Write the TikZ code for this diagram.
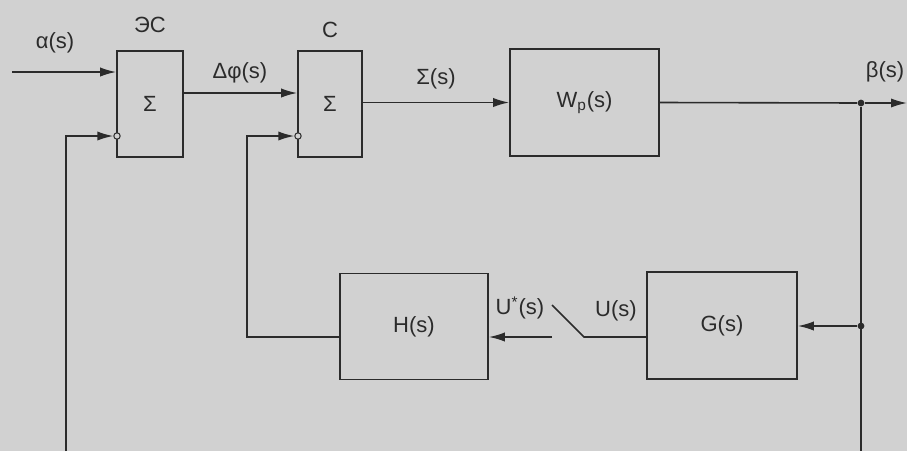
\documentclass[tikz,border=0pt]{standalone}
\usepackage{fontspec}
\setmainfont{Liberation Sans}
\usetikzlibrary{arrows.meta}
\definecolor{paper}{gray}{0.82}
\definecolor{ink}{gray}{0.17}

\begin{document}
\begin{tikzpicture}[x=0.5pt, y=-0.5pt,
    bloc/.style={draw=ink, line width=0.8pt, inner sep=0pt, text=ink,
        font=\fontsize{11}{13}\selectfont},
    rotulo/.style={text=ink, inner sep=0pt,
        font=\fontsize{11}{13}\selectfont},
    senal/.style={draw=ink, line width=0.8pt,
        -{Latex[length=8pt, width=4.6pt]}},
    cable/.style={draw=ink, line width=0.8pt},
    punto/.style={circle, fill=ink, inner sep=0pt, minimum size=3.4pt},
    entrada/.style={circle, draw=ink, fill=paper, line width=0.5pt,
        inner sep=0pt, minimum size=3.2pt}
    ]
    \fill[paper] (0,0) rectangle (907,451);
    \useasboundingbox (0,0) rectangle (907,451);
    % bloques
    \node[bloc, minimum width=33pt, minimum height=53pt] (es) at (150,104) {Σ};
    \node[bloc, minimum width=32pt, minimum height=53pt] (c) at (330,104) {Σ};
    \node[bloc, minimum width=74.5pt, minimum height=53.5pt] (wp) at (584.5,102.5) {W\textsubscript{p}(s)};
    \node[bloc, minimum width=74pt, minimum height=53pt] (h) at (414,326.5) {H(s)};
    \node[bloc, minimum width=75pt, minimum height=53.5pt] (g) at (722,325.5) {G(s)};
    % rotulos
    \node[rotulo] (esnom) at (150,25) {ЭС};
    \node[rotulo] (cnom) at (330,30) {С};
    \node[rotulo] (alfa) at (55,43) {α(s)};
    \node[rotulo] (dfi) at (240,73) {Δφ(s)};
    \node[rotulo] (sigma) at (436,79) {Σ(s)};
    \node[rotulo] (beta) at (885,72) {β(s)};
    \node[rotulo] (uest) at (520,308) {U\textsuperscript{*}(s)};
    \node[rotulo] (u) at (616,311) {U(s)};
    % puntos
    \coordinate (in) at (12,72);
    \coordinate (out) at (907,103);
    \coordinate (bl) at (66,451);
    \coordinate (br) at (861,451);
    \coordinate (fbc) at (247,136);
    \coordinate (sw1) at (584,337);
    \coordinate (sw2) at (552,305);
    \coordinate (sw3) at (552,337);
    \node[punto] (tap) at (861,103) {};
    \node[punto] (tapg) at (861,326) {};
    \node[entrada] (es2) at (117,136) {};
    \node[entrada] (c2) at (298,136) {};
    % conexiones
    \draw[senal] (in) -- (es.west |- in);
    \draw[senal] (es.east |- 0,93) -- (c.west |- 0,93);
    \draw[senal] (c.east |- wp.west) -- (wp.west);
    \draw[cable] (wp.east) -- (tap);
    \draw[senal] (tap) -- (out);
    \draw[cable] (tap) -- (br);
    \draw[senal] (tapg) -- (g.east |- tapg);
    \draw[cable] (g.west |- sw1) -- (sw1) -- (sw2);
    \draw[senal] (sw3) -- (h.east |- sw3);
    \draw[senal] (h.west |- sw3) -| (fbc) -- (c2);
    \draw[senal] (bl) |- (es2);
\end{tikzpicture}
\end{document}
